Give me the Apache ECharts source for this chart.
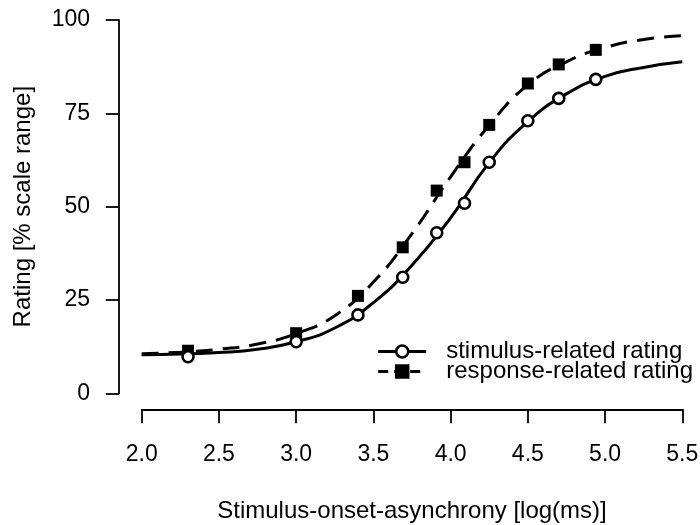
<!DOCTYPE html>
<html>
<head>
<meta charset="utf-8">
<script src="https://cdn.jsdelivr.net/npm/echarts@6/dist/echarts.min.js"></script>
<style>
html,body{margin:0;padding:0;background:#fff;}
#chart{width:700px;height:525px;}
</style>
</head>
<body>
<div id="chart"></div>
<script>
// Observed data (x in log(ms), y in % scale range)
var soaLog = [2.30, 3.00, 3.40, 3.69, 3.91, 4.09, 4.25, 4.50, 4.70, 4.94];
var stimulusRating = [9.8, 13.8, 21.0, 31.1, 43.0, 50.9, 61.9, 73.0, 79.0, 84.1];
var responseRating = [11.4, 16.1, 26.1, 39.1, 54.3, 61.9, 71.9, 83.0, 88.1, 92.0];

// Fitted curves
var curveX = [2.0, 2.25, 2.5, 2.75, 3.0, 3.25, 3.5, 3.75, 4.0, 4.25, 4.5, 4.75, 5.0, 5.25, 5.5];
var stimulusFit = [10.3, 10.5, 10.9, 11.8, 13.8, 17.5, 24.3, 34.3, 47.0, 61.8, 72.8, 80.2, 84.9, 87.3, 88.8];
var responseFit = [10.6, 11.0, 11.8, 13.2, 16.0, 20.8, 29.8, 42.8, 58.0, 71.8, 82.6, 88.8, 92.6, 94.8, 95.8];

var xTicks = ['2.0', '2.5', '3.0', '3.5', '4.0', '4.5', '5.0', '5.5'];
var yTicks = ['0', '25', '50', '75', '100'];

var nameStim = 'stimulus-related rating';
var nameResp = 'response-related rating';

function pairs(xs, ys) {
  return xs.map(function (x, i) { return [x, ys[i]]; });
}

var FONT = '"Liberation Sans", Arial, Helvetica, sans-serif';
var chart = echarts.init(document.getElementById('chart'), null, {renderer: 'canvas'});

function legendBlock(name, top, dash, fill) {
  return {
    data: [{
      name: name,
      itemStyle: {color: fill, borderColor: '#000', borderWidth: 2.5},
      lineStyle: {color: '#000', width: 3, type: dash}
    }],
    left: 376.7, top: top, orient: 'vertical', padding: 0,
    itemWidth: 48, itemHeight: 15,
    lineStyle: {color: '#000', width: 3, type: dash},
    itemStyle: {color: fill, borderColor: '#000', borderWidth: 2.5},
    textStyle: {fontSize: 24, color: '#000', fontFamily: FONT, padding: [0, 0, 0, 15]},
    selectedMode: false
  };
}

chart.setOption({
  backgroundColor: '#fff',
  animation: false,
  textStyle: {fontFamily: FONT, color: '#000'},
  grid: {left: 141.7, right: 17.7, top: 20, bottom: 131.7, containLabel: false, outerBoundsMode: 'none'},
  legend: [
    legendBlock(nameStim, 339.5, 'solid', '#fff'),
    legendBlock(nameResp, 359.5, [10, 6], '#000')
  ],
  xAxis: {
    type: 'value', min: 2, max: 5.5, interval: 0.5, offset: 16,
    name: 'Stimulus-onset-asynchrony [log(ms)]', nameLocation: 'middle', nameGap: 90,
    nameTextStyle: {fontSize: 24, color: '#000', fontFamily: FONT},
    axisLine: {show: true, onZero: false, lineStyle: {color: '#000', width: 1.8}},
    axisTick: {show: true, inside: false, length: 14, lineStyle: {color: '#000', width: 1.8}},
    axisLabel: {fontSize: 23, color: '#000', fontFamily: FONT, margin: 34,
      formatter: function (v) { var i = Math.round((v - 2) / 0.5); return xTicks[i]; }},
    splitLine: {show: false}
  },
  yAxis: {
    type: 'value', min: 0, max: 100, interval: 25, offset: 22.7,
    name: 'Rating [% scale range]', nameLocation: 'middle', nameGap: 84, nameRotate: 90,
    nameTextStyle: {fontSize: 24, color: '#000', fontFamily: FONT},
    axisLine: {show: true, onZero: false, lineStyle: {color: '#000', width: 1.8}},
    axisTick: {show: true, inside: false, length: 13.3, lineStyle: {color: '#000', width: 1.8}},
    axisLabel: {fontSize: 23, color: '#000', fontFamily: FONT, margin: 29,
      formatter: function (v) { return yTicks[Math.round(v / 25)]; }},
    splitLine: {show: false}
  },
  series: [
    {
      name: nameStim, type: 'line', data: pairs(curveX, stimulusFit),
      smooth: 0.5, showSymbol: false, symbol: 'circle',
      lineStyle: {color: '#000', width: 3, type: 'solid'},
      itemStyle: {color: '#fff', borderColor: '#000', borderWidth: 2.5},
      z: 2
    },
    {
      name: nameResp, type: 'line', data: pairs(curveX, responseFit),
      smooth: 0.5, showSymbol: false, symbol: 'rect',
      lineStyle: {color: '#000', width: 3, type: [17, 10]},
      itemStyle: {color: '#000'},
      z: 2
    },
    {
      name: 'stimPoints', type: 'scatter', data: pairs(soaLog, stimulusRating),
      symbol: 'circle', symbolSize: 11,
      itemStyle: {color: '#fff', borderColor: '#000', borderWidth: 2.6, opacity: 1},
      z: 4
    },
    {
      name: 'respPoints', type: 'scatter', data: pairs(soaLog, responseRating),
      symbol: 'rect', symbolSize: 12,
      itemStyle: {color: '#000', opacity: 1},
      z: 3
    }
  ]
});
</script>
</body>
</html>
